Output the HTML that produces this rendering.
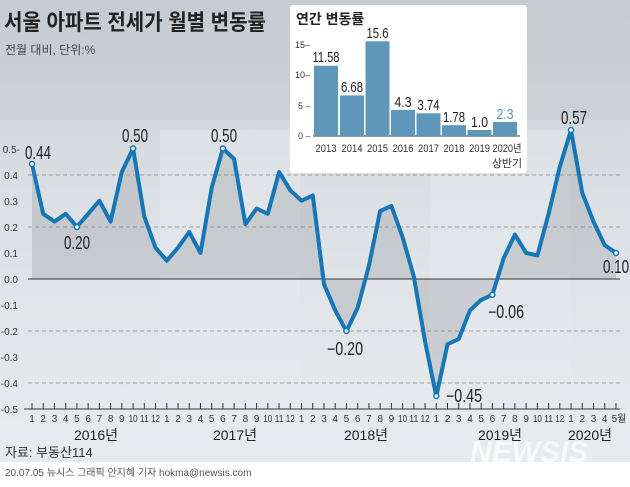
<!DOCTYPE html>
<html><head><meta charset="utf-8"><style>
html,body{margin:0;padding:0;}
body{width:630px;height:482px;overflow:hidden;font-family:"Liberation Sans","Noto Sans CJK KR",sans-serif;}
svg text{font-family:"Liberation Sans","Noto Sans CJK KR",sans-serif;}
</style></head><body>
<svg width="630" height="482" viewBox="0 0 630 482" xmlns="http://www.w3.org/2000/svg">
<defs>
<linearGradient id="bg" x1="0" y1="0" x2="0" y2="1">
<stop offset="0" stop-color="#c9ced3"/><stop offset="0.45" stop-color="#dde1e5"/><stop offset="1" stop-color="#e9ecef"/>
</linearGradient>
</defs>
<rect width="630" height="482" fill="url(#bg)"/>
<rect x="0" y="0" width="630" height="120" fill="#c4c9cf" opacity="0.5"/>
<rect x="160" y="130" width="140" height="290" fill="#e6eaee" opacity="0.5"/>
<rect x="430" y="130" width="140" height="290" fill="#e6eaee" opacity="0.5"/>
<rect x="0" y="462" width="630" height="20" fill="#ffffff"/>
<path id="area" fill="#a9adb2" opacity="0.45"/>
<g stroke="#888" stroke-dasharray="4,3" stroke-width="0.8">
<line x1="28" x2="620" y1="175" y2="175"/><line x1="28" x2="620" y1="227" y2="227"/>
<line x1="28" x2="620" y1="331" y2="331"/><line x1="28" x2="620" y1="383" y2="383"/>
</g>
<line x1="28" x2="620" y1="279" y2="279" stroke="#333" stroke-width="1"/>
<line x1="24" x2="620" y1="409" y2="409" stroke="#333" stroke-width="1"/>
<g id="ticks" stroke="#333" stroke-width="1"></g>
<g font-size="10" fill="#333" text-anchor="end">
<text x="20" y="153">0.5-</text><text x="18" y="179">0.4</text><text x="18" y="205">0.3</text><text x="18" y="231">0.2</text><text x="18" y="257">0.1</text><text x="18" y="283">0.0</text><text x="18" y="309">-0.1</text><text x="18" y="335">-0.2</text><text x="18" y="361">-0.3</text><text x="18" y="387">-0.4</text><text x="18" y="413">-0.5</text>
</g>
<polyline id="line" fill="none" stroke="#1676b6" stroke-width="4" stroke-linejoin="round"/>
<g fill="#fff" stroke="#1676b6" stroke-width="1.5">
<circle cx="32" cy="164" r="2.5"/><circle cx="76.9" cy="227" r="2.5"/><circle cx="133.1" cy="148.5" r="2.5"/><circle cx="222.9" cy="148.5" r="2.5"/><circle cx="346.4" cy="331" r="2.5"/><circle cx="436.3" cy="396" r="2.5"/><circle cx="492.4" cy="294.7" r="2.5"/><circle cx="571" cy="130" r="2.5"/><circle cx="616" cy="253" r="2.5"/>
</g>
<g font-size="18" fill="#222" lengthAdjust="spacingAndGlyphs">
<text x="25" y="159" textLength="26" lengthAdjust="spacingAndGlyphs">0.44</text><text x="64" y="249" textLength="26" lengthAdjust="spacingAndGlyphs">0.20</text><text x="122" y="142" textLength="26" lengthAdjust="spacingAndGlyphs">0.50</text><text x="211" y="142" textLength="26" lengthAdjust="spacingAndGlyphs">0.50</text><text x="327" y="355" textLength="36" lengthAdjust="spacingAndGlyphs">−0.20</text><text x="446" y="402" textLength="36" lengthAdjust="spacingAndGlyphs">−0.45</text><text x="488" y="318" textLength="36" lengthAdjust="spacingAndGlyphs">−0.06</text><text x="561" y="124" textLength="26" lengthAdjust="spacingAndGlyphs">0.57</text><text x="603" y="273" textLength="26" lengthAdjust="spacingAndGlyphs">0.10</text>
</g>
<g font-size="10" fill="#333" text-anchor="middle">
<text x="32" y="422">1</text><text x="43.2" y="422">2</text><text x="54.5" y="422">3</text><text x="65.7" y="422">4</text><text x="76.9" y="422">5</text><text x="88.2" y="422">6</text><text x="99.4" y="422">7</text><text x="110.6" y="422">8</text><text x="121.8" y="422">9</text><text x="133.1" y="422" textLength="9" lengthAdjust="spacingAndGlyphs">10</text><text x="144.3" y="422" textLength="9" lengthAdjust="spacingAndGlyphs">11</text><text x="155.5" y="422" textLength="9" lengthAdjust="spacingAndGlyphs">12</text>
<text x="166.8" y="422">1</text><text x="178" y="422">2</text><text x="189.2" y="422">3</text><text x="200.5" y="422">4</text><text x="211.7" y="422">5</text><text x="222.9" y="422">6</text><text x="234.1" y="422">7</text><text x="245.4" y="422">8</text><text x="256.6" y="422">9</text><text x="267.8" y="422" textLength="9" lengthAdjust="spacingAndGlyphs">10</text><text x="279.1" y="422" textLength="9" lengthAdjust="spacingAndGlyphs">11</text><text x="290.3" y="422" textLength="9" lengthAdjust="spacingAndGlyphs">12</text>
<text x="301.5" y="422">1</text><text x="312.8" y="422">2</text><text x="324" y="422">3</text><text x="335.2" y="422">4</text><text x="346.4" y="422">5</text><text x="357.7" y="422">6</text><text x="368.9" y="422">7</text><text x="380.1" y="422">8</text><text x="391.4" y="422">9</text><text x="402.6" y="422" textLength="9" lengthAdjust="spacingAndGlyphs">10</text><text x="413.8" y="422" textLength="9" lengthAdjust="spacingAndGlyphs">11</text><text x="425.1" y="422" textLength="9" lengthAdjust="spacingAndGlyphs">12</text>
<text x="436.3" y="422">1</text><text x="447.5" y="422">2</text><text x="458.7" y="422">3</text><text x="470" y="422">4</text><text x="481.2" y="422">5</text><text x="492.4" y="422">6</text><text x="503.7" y="422">7</text><text x="514.9" y="422">8</text><text x="526.1" y="422">9</text><text x="537.4" y="422" textLength="9" lengthAdjust="spacingAndGlyphs">10</text><text x="548.6" y="422" textLength="9" lengthAdjust="spacingAndGlyphs">11</text><text x="559.8" y="422" textLength="9" lengthAdjust="spacingAndGlyphs">12</text>
<text x="571" y="422">1</text><text x="582.3" y="422">2</text><text x="593.5" y="422">3</text><text x="604.7" y="422">4</text><text x="619" y="422">5월</text>
</g>
<text x="470" y="462" font-size="30" font-weight="bold" font-style="italic" fill="#ffffff" opacity="0.7">NEWSIS</text>
<g font-size="14" fill="#222" text-anchor="middle">
<text x="96" y="440">2016년</text><text x="235" y="440">2017년</text><text x="366" y="440">2018년</text><text x="500" y="440">2019년</text><text x="590" y="440">2020년</text>
</g>
<text x="5" y="457" font-size="13" fill="#333">자료: 부동산114</text>
<text x="5" y="476" font-size="10" fill="#555">20.07.05 뉴시스 그래픽 안지혜 기자 hokma@newsis.com</text>
<text x="4" y="30" font-size="22" fill="#222" textLength="262" lengthAdjust="spacingAndGlyphs" style="font-weight:600">서울 아파트 전세가 월별 변동률</text>
<text x="5" y="54" font-size="12" fill="#444">전월 대비, 단위:%</text>
<!-- inset -->
<rect x="290" y="5" width="237" height="168" fill="#ffffff" rx="3"/>
<text x="296" y="24" font-size="14" font-weight="bold" fill="#222">연간 변동률</text>
<g font-size="9" fill="#333"><text x="295" y="48">15–</text><text x="295" y="78">10–</text><text x="298" y="109">5 –</text><text x="298" y="139">0 –</text></g>
<line x1="313" x2="520" y1="136" y2="136" stroke="#333"/>
<g fill="#5f97bb">
<rect x="314" y="65.7" width="24" height="70.3"/><rect x="340" y="95.4" width="24" height="40.6"/><rect x="365.5" y="41.3" width="24" height="94.7"/><rect x="391" y="109.9" width="24" height="26.1"/><rect x="416.5" y="113.3" width="24" height="22.7"/><rect x="442" y="125.2" width="24" height="10.8"/><rect x="467.5" y="130" width="24" height="6"/><rect x="493" y="122" width="24" height="14"/>
</g>
<g font-size="15" fill="#222" text-anchor="middle">
<text x="326" y="62" textLength="27" lengthAdjust="spacingAndGlyphs">11.58</text><text x="352" y="92" textLength="22" lengthAdjust="spacingAndGlyphs">6.68</text><text x="377.5" y="38" textLength="22" lengthAdjust="spacingAndGlyphs">15.6</text><text x="403" y="107" textLength="17" lengthAdjust="spacingAndGlyphs">4.3</text><text x="428.5" y="110" textLength="22" lengthAdjust="spacingAndGlyphs">3.74</text><text x="454" y="122" textLength="22" lengthAdjust="spacingAndGlyphs">1.78</text><text x="479.5" y="127" textLength="17" lengthAdjust="spacingAndGlyphs">1.0</text><text x="505" y="119" fill="#4f93c4" textLength="17" lengthAdjust="spacingAndGlyphs">2.3</text>
</g>
<g font-size="11" fill="#333" text-anchor="middle">
<text x="326" y="152" textLength="21" lengthAdjust="spacingAndGlyphs">2013</text><text x="352" y="152" textLength="21" lengthAdjust="spacingAndGlyphs">2014</text><text x="377.5" y="152" textLength="21" lengthAdjust="spacingAndGlyphs">2015</text><text x="403" y="152" textLength="21" lengthAdjust="spacingAndGlyphs">2016</text><text x="428.5" y="152" textLength="21" lengthAdjust="spacingAndGlyphs">2017</text><text x="454" y="152" textLength="21" lengthAdjust="spacingAndGlyphs">2018</text><text x="479.5" y="152" textLength="21" lengthAdjust="spacingAndGlyphs">2019</text><text x="507" y="152" textLength="29" lengthAdjust="spacingAndGlyphs">2020년</text><text x="507" y="167">상반기</text>
</g>
</svg>
<script>
var v=[0.44,0.25,0.22,0.25,0.20,0.25,0.30,0.22,0.41,0.50,0.24,0.12,
0.07,0.12,0.18,0.10,0.35,0.50,0.46,0.21,0.27,0.25,0.41,0.34,
0.30,0.32,-0.02,-0.12,-0.20,-0.11,0.05,0.26,0.28,0.16,0.01,-0.24,
-0.45,-0.25,-0.23,-0.12,-0.08,-0.06,0.08,0.17,0.10,0.09,0.25,0.43,
0.57,0.33,0.22,0.13,0.10];
var pts=[],t="";
for(var i=0;i<v.length;i++){var x=32+i*11.23,y=279-v[i]*261;pts.push(x.toFixed(1)+","+y.toFixed(1));
t+='<line x1="'+x+'" x2="'+x+'" y1="403" y2="409"/>';}
document.getElementById('line').setAttribute('points',pts.join(' '));
document.getElementById('area').setAttribute('d','M32,279 L'+pts.join(' L')+' L616,279 Z');
document.getElementById('ticks').innerHTML=t;
</script>
</body></html>
